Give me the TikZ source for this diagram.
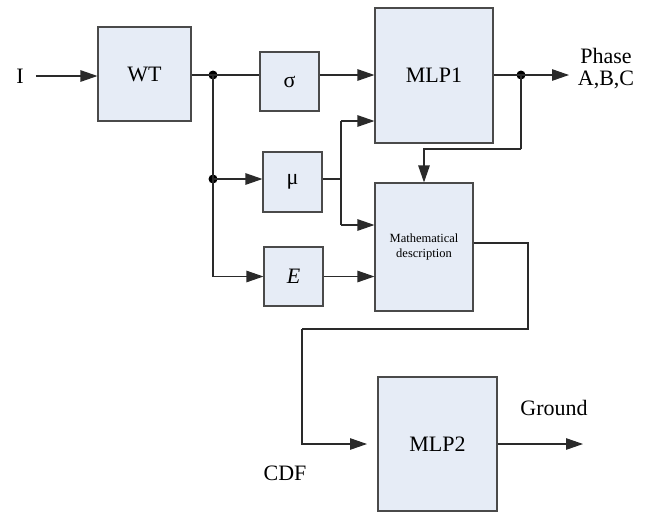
\documentclass[tikz,border=0pt]{standalone}
\usepackage{fontspec}
\setmainfont{Liberation Serif}
\usetikzlibrary{arrows.meta}
\definecolor{boxfill}{HTML}{E6ECF6}
\definecolor{boxline}{HTML}{4A4A4A}
\definecolor{wire}{HTML}{2A2A2A}
\begin{document}
\begin{tikzpicture}[x=1pt,y=-1pt,
  blk/.style={draw=boxline,fill=boxfill,line width=1.1pt,inner sep=0pt,
    minimum width=#1,font=\fontsize{22}{26}\selectfont},
  blk/.default=60pt,
  wireline/.style={draw=wire,line width=1.1pt},
  arr/.style={wireline,-{Triangle[length=17pt,width=11.5pt]}},
  lbl/.style={inner sep=0pt,font=\fontsize{22}{22}\selectfont},
  jdot/.style={circle,fill=black,inner sep=0pt,minimum size=9pt}]
\useasboundingbox (0,0) rectangle (648,512);
% blocks
\node[blk=93pt,minimum height=94pt] (WT) at (144.5,74) {WT};
\node[blk=59pt,minimum height=59pt] (sig) at (289.5,81.5) {σ};
\node[blk=59pt,minimum height=60pt] (mu) at (292.5,182) {μ};
\node[blk=59pt,minimum height=59pt] (E) at (293.5,276.5) {\textit{E}};
\node[blk=118pt,minimum height=135pt] (MLP1) at (434,75.5) {MLP1};
\node[blk=98pt,minimum height=128pt,align=center,font=\fontsize{12.5}{14.5}\selectfont] (math) at (424,247) {Mathematical\\description};
\node[blk=119pt,minimum height=134pt] (MLP2) at (437.5,444) {MLP2};
% labels
\node[lbl,inner xsep=12pt] (Itext) at (20,76) {I};
\node[lbl,align=center] (phase) at (606,69) {Phase\\A,B,C};
\node[lbl] (ground) at (554,408) {Ground};
\node[lbl] (cdf) at (285,473) {CDF};
% junctions
\node[jdot] (d1) at (213,75) {};
\node[jdot] (d2) at (213,179) {};
\node[jdot] (d3) at (521,75) {};
\coordinate (mub) at (341,179);
\coordinate (mut) at (341,121);
\coordinate (mubot) at (341,225);
\coordinate (phend) at (569,75);
\coordinate (fb) at (521,149);
\coordinate (mo) at (528,243);
\coordinate (c1) at (528,329);
\coordinate (c2) at (302,329);
\coordinate (cdfend) at (367,444);
\coordinate (gend) at (583,444);
% connectors
\draw[arr] (Itext.east) -- (Itext.east -| WT.west);
\draw[wireline] (WT.east |- d1) -- (d1.center) -- (sig.west |- d1);
\draw[arr] (sig.east |- d1) -- (MLP1.west |- d1);
\draw[wireline] (d1.center) -- (d2.center);
\draw[arr] (d2.center) -- (mu.west |- d2);
\draw[arr] (d2.center) |- (E.west);
\draw[wireline] (mu.east |- mub) -- (mub);
\draw[wireline] (mut) -- (mubot);
\draw[arr] (mut) -- (MLP1.west |- mut);
\draw[arr] (mubot) -- (math.west |- mubot);
\draw[arr] (E.east) -- (math.west |- E.east);
\draw[wireline] (MLP1.east |- d3) -- (d3.center);
\draw[arr] (d3.center) -- (phend);
\draw[wireline] (d3.center) -- (fb);
\draw[arr] (fb) -| (math.north);
\draw[wireline] (math.east |- mo) -- (mo) -- (c1) -- (c2);
\draw[arr] (c2) |- (cdfend);
\draw[arr] (MLP2.east) -- (gend);
\end{tikzpicture}
\end{document}
